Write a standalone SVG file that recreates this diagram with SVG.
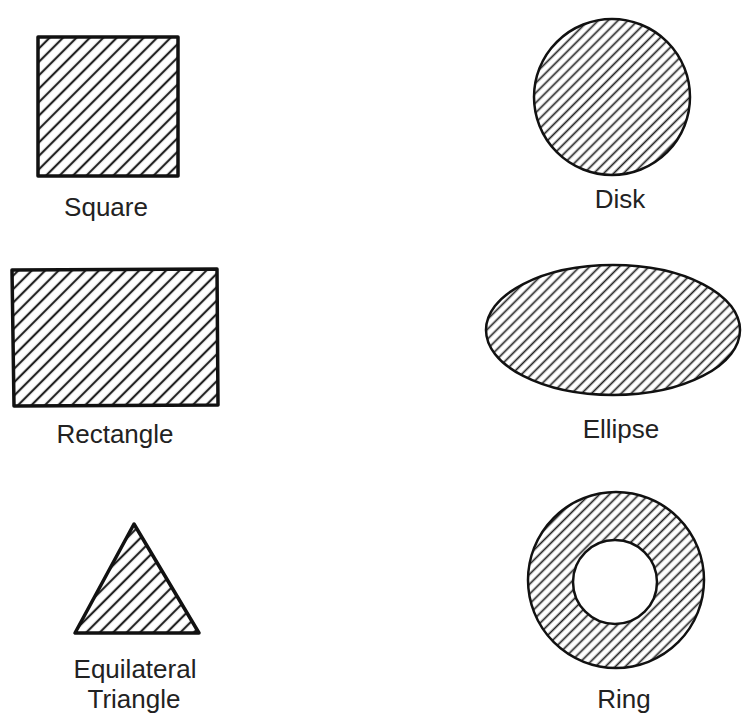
<svg xmlns="http://www.w3.org/2000/svg" width="742" height="717" viewBox="0 0 742 717">
<defs>
<pattern id="hatchL" patternUnits="userSpaceOnUse" width="20" height="9.5" patternTransform="rotate(-45)">
<line x1="0" y1="4.75" x2="20" y2="4.75" stroke="#222" stroke-width="2.2"/>
</pattern>
<pattern id="hatchR" patternUnits="userSpaceOnUse" width="20" height="7" patternTransform="rotate(-45)">
<line x1="0" y1="3.5" x2="20" y2="3.5" stroke="#222" stroke-width="1.7"/>
</pattern>
</defs>
<style>
.shapeL{fill:url(#hatchL);stroke:#111;stroke-width:3.5;stroke-linejoin:round}
.shapeR{fill:url(#hatchR);stroke:#111;stroke-width:2.5}
.lbl{font-family:"Liberation Sans",Arial,sans-serif;font-size:26px;fill:#222;text-anchor:middle}
</style>
<rect width="742" height="717" fill="#fff"/>
<g id="square">
<rect class="shapeL" x="38" y="37" width="140" height="139"/>
<text class="lbl" x="106" y="216">Square</text>
</g>
<g id="rectangle">
<polygon class="shapeL" points="12,270 217,269 218,405 14,406"/>
<text class="lbl" x="115" y="443">Rectangle</text>
</g>
<g id="triangle">
<polygon class="shapeL" points="134,524 75,633 199,633"/>
<text class="lbl" x="135" y="678">Equilateral</text>
<text class="lbl" x="134" y="708">Triangle</text>
</g>
<g id="disk">
<circle class="shapeR" cx="612" cy="97" r="78"/>
<text class="lbl" x="620" y="208">Disk</text>
</g>
<g id="ellipse">
<ellipse class="shapeR" cx="613" cy="330" rx="127" ry="65"/>
<text class="lbl" x="621" y="438">Ellipse</text>
</g>
<g id="ring">
<path class="shapeR" fill-rule="evenodd" d="M528,580 a88,88 0 1,0 176,0 a88,88 0 1,0 -176,0 Z M573,582 a42,42 0 1,0 84,0 a42,42 0 1,0 -84,0 Z"/>
<text class="lbl" x="624" y="708">Ring</text>
</g>
<g id="connectors"/>
</svg>
